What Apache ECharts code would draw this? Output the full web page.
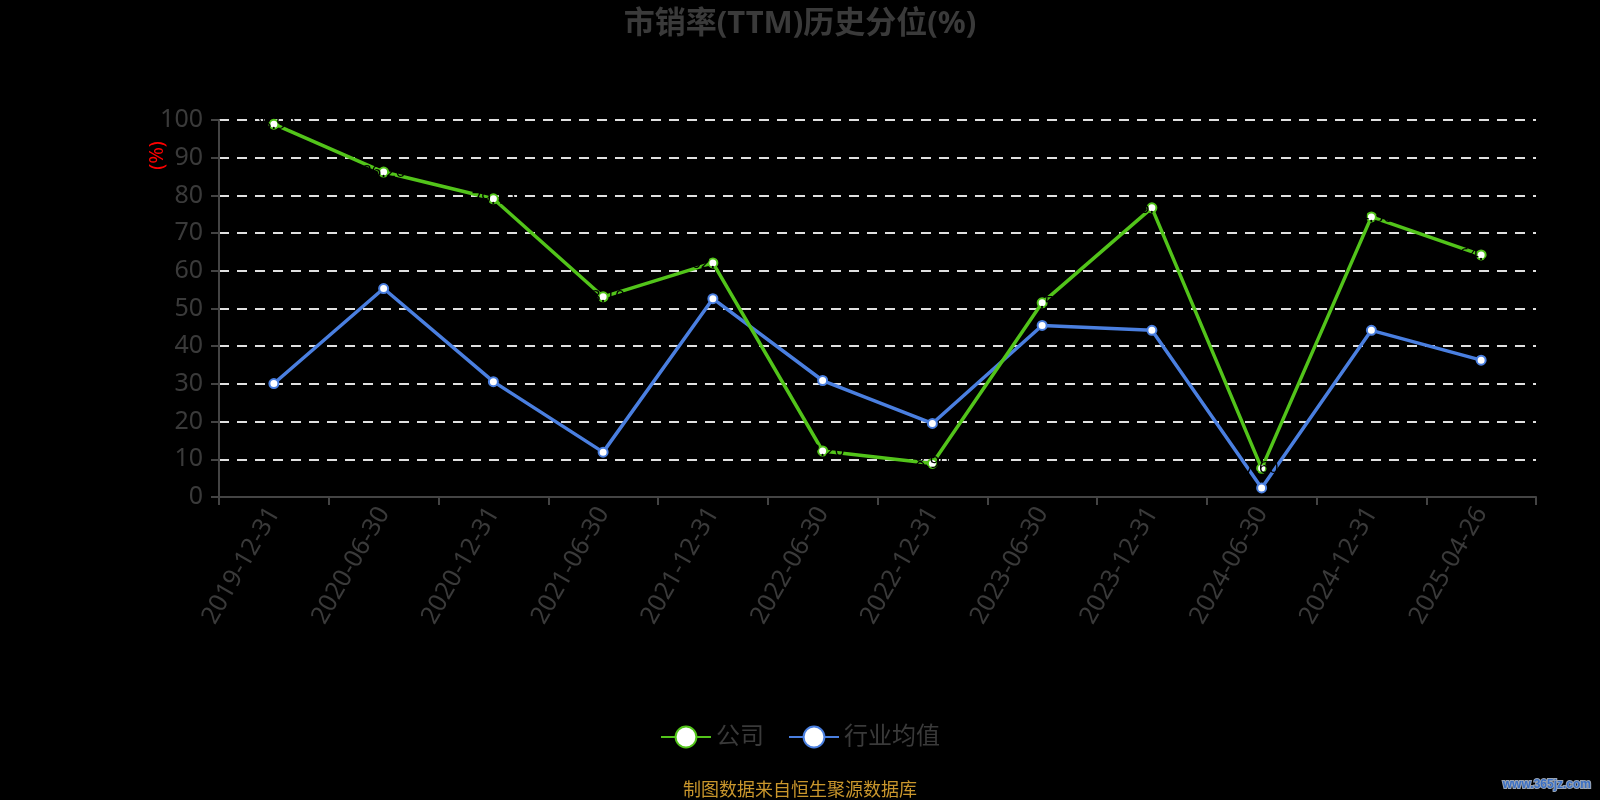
<!DOCTYPE html>
<html>
<head>
<meta charset="utf-8">
<script src="https://cdn.jsdelivr.net/npm/echarts@6/dist/echarts.min.js"></script>
<style>
html,body{margin:0;padding:0;background:#000;}
#chart{width:1600px;height:800px;}
</style>
</head>
<body>
<div id="chart"></div>
<script>
var categories = ['2019-12-31','2020-06-30','2020-12-31','2021-06-30','2021-12-31','2022-06-30','2022-12-31','2023-06-30','2023-12-31','2024-06-30','2024-12-31','2025-04-26'];
var companyValues = [98.90, 86.20, 79.10, 53.10, 62.10, 12.20, 8.90, 51.50, 76.70, 7.60, 74.30, 64.20];
var industryValues = [30.10, 55.30, 30.60, 11.90, 52.60, 30.90, 19.50, 45.50, 44.20, 2.40, 44.20, 36.30];
var seriesNames = ['公司', '行业均值'];
var titleText = '市销率(TTM)历史分位(%)';
var sourceText = '制图数据来自恒生聚源数据库';
var watermarkText = 'www.365jz.com';
var yAxisName = '(%)';

var font = '"Noto Sans", "Noto Sans CJK SC", sans-serif';
var chart = echarts.init(document.getElementById('chart'));
chart.setOption({
  backgroundColor: '#000',
  animation: false,
  textStyle: { fontFamily: font },
  title: {
    text: titleText,
    left: 'center',
    top: 4,
    textStyle: { color: '#3a3a3a', fontSize: 31, fontWeight: 'bold', fontFamily: font }
  },
  legend: {
    bottom: 46,
    left: 'center',
    itemWidth: 50,
    itemHeight: 26,
    itemGap: 24,
    textStyle: { color: '#3a3a3a', fontSize: 24, fontFamily: font },
    data: seriesNames
  },
  grid: { left: 219, right: 64, top: 120, bottom: 303, containLabel: false },
  xAxis: {
    type: 'category',
    data: categories,
    boundaryGap: true,
    axisLine: { lineStyle: { color: '#444', width: 2 } },
    axisTick: { show: true, length: 8, lineStyle: { color: '#444', width: 2 } },
    axisLabel: { color: '#3a3a3a', fontSize: 25, rotate: 60, margin: 12, interval: 0, fontFamily: font },
    splitLine: { show: false }
  },
  yAxis: {
    type: 'value',
    min: 0, max: 100, interval: 10,
    name: yAxisName,
    nameLocation: 'middle',
    nameGap: 52,
    nameMoveOverlap: false,
    nameTextStyle: { color: '#ff0000', fontSize: 20, padding: [0, 0, 0, 306], fontFamily: font },
    axisLine: { show: true, lineStyle: { color: '#444', width: 2 } },
    axisTick: { show: true, length: 8, lineStyle: { color: '#444', width: 2 } },
    axisLabel: { color: '#3a3a3a', fontSize: 25, margin: 16, fontFamily: font },
    splitLine: { show: true, lineStyle: { color: '#e0e0e0', width: 2, type: [10, 8] } }
  },
  graphic: [
    {
      type: 'text', left: 'center', bottom: 0,
      style: { text: sourceText, fill: '#c9962c', fontSize: 18, fontFamily: font }
    },
    {
      type: 'text', right: 8, bottom: 8,
      style: { text: watermarkText, fill: '#3a6fc4', stroke: '#9aa5b5', lineWidth: 2, fontSize: 12, fontWeight: 'bold', fontFamily: 'Liberation Sans' }
    }
  ],
  series: [
    {
      name: seriesNames[0],
      type: 'line',
      data: companyValues,
      symbol: 'emptyCircle',
      symbolSize: 9,
      color: '#52c41a',
      lineStyle: { color: '#52c41a', width: 3.5 },
      itemStyle: { color: '#52c41a', borderWidth: 2 },
      label: {
        show: true, position: 'inside', color: '#000', fontSize: 17, fontFamily: font,
        formatter: function (p) { return p.value.toFixed(2); }
      },
      z: 3
    },
    {
      name: seriesNames[1],
      type: 'line',
      data: industryValues,
      symbol: 'emptyCircle',
      symbolSize: 9,
      color: '#4a7fe0',
      lineStyle: { color: '#4a7fe0', width: 3.5 },
      itemStyle: { color: '#4a7fe0', borderWidth: 2 },
      z: 2
    }
  ]
});
</script>
</body>
</html>
